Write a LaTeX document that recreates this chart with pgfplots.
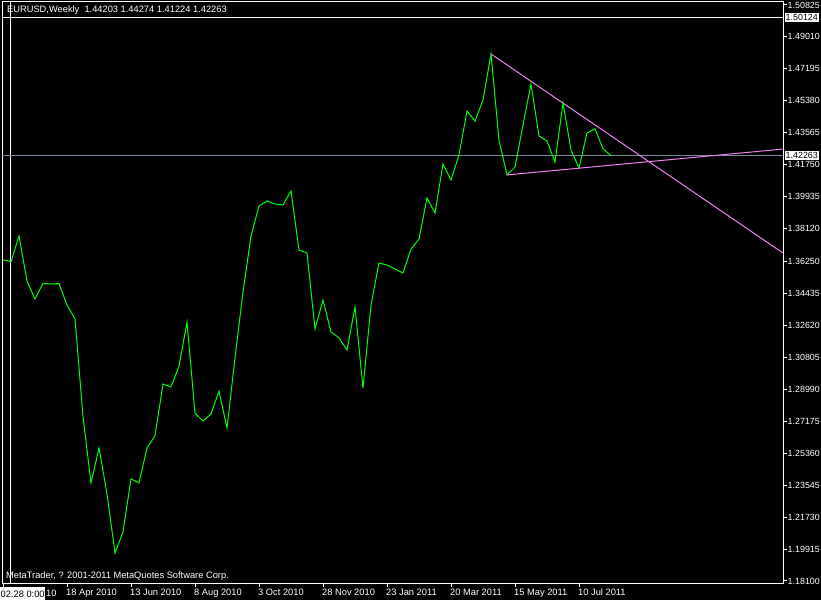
\documentclass[border=0pt]{standalone}
\usepackage{fontspec}
\setmainfont{Liberation Sans}
\usepackage{pgfplots}
\usepackage{pgfplotstable}
\pgfplotsset{compat=1.18}

\definecolor{mtgreen}{RGB}{0,255,0}
\definecolor{mtviolet}{RGB}{238,130,238}
\definecolor{mtbid}{RGB}{119,136,153}

% weekly closes, EURUSD; w = week number counted from 21 Feb 2010
\pgfplotstableread{
w close
0 1.3634
1 1.3624
2 1.3770
3 1.3515
4 1.3412
5 1.3501
6 1.3497
7 1.3500
8 1.3378
9 1.3299
10 1.2745
11 1.2367
12 1.2566
13 1.2305
14 1.1969
15 1.2088
16 1.2390
17 1.2367
18 1.2566
19 1.2635
20 1.2929
21 1.2912
22 1.3031
23 1.3281
24 1.2764
25 1.2719
26 1.2759
27 1.2889
28 1.2679
29 1.3077
30 1.3452
31 1.3770
32 1.3940
33 1.3969
34 1.3952
35 1.3946
36 1.4026
37 1.3690
38 1.3674
39 1.3242
40 1.3406
41 1.3225
42 1.3191
43 1.3122
44 1.3367
45 1.2906
46 1.3378
47 1.3617
48 1.3605
49 1.3583
50 1.3560
51 1.3696
52 1.3753
53 1.3986
54 1.3901
55 1.4179
56 1.4088
57 1.4230
58 1.4480
59 1.4423
60 1.4543
61 1.4804
62 1.4315
63 1.4117
64 1.4162
65 1.4401
66 1.4634
67 1.4338
68 1.4310
69 1.4190
70 1.4526
71 1.4259
72 1.4156
73 1.4355
74 1.4379
75 1.4266
76 1.42263
}\eurusd

\newcommand{\mtfont}{\fontsize{9.3bp}{10bp}\selectfont}
\newcommand{\mtscale}{\fontsize{8.9bp}{10bp}\selectfont}

\begin{document}
\begin{tikzpicture}
\fill[black] (0,0) rectangle (821bp,600bp);
\useasboundingbox (0,0) rectangle (821bp,600bp);
\begin{axis}[
  at={(2bp,17bp)}, anchor=south west,
  scale only axis, width=781bp, height=581bp,
  xmin=-0.125, xmax=97.5,
  ymin=1.17986, ymax=1.50995,
  axis line style={white, line width=1bp},
  tick align=outside,
  major tick length=4bp,
  every tick/.style={white, line width=1bp},
  xtick pos=lower, ytick pos=right,
  yticklabel pos=right,
  xtick={0,8,16,24,32,40,48,56,64,72},
  xticklabels={,18 Apr 2010,13 Jun 2010,8 Aug 2010,3 Oct 2010,28 Nov 2010,23 Jan 2011,20 Mar 2011,15 May 2011,10 Jul 2011},
  ytick={1.18100,1.19915,1.21730,1.23545,1.25360,1.27175,1.28990,1.30805,1.32620,1.34435,1.36250,1.38120,1.39935,1.41750,1.43565,1.45380,1.47195,1.49010,1.50825},
  yticklabels={1.18100,1.19915,1.21730,1.23545,1.25360,1.27175,1.28990,1.30805,1.32620,1.34435,1.36250,1.38120,1.39935,1.41750,1.43565,1.45380,1.47195,1.49010,1.50825},
  every tick label/.append style={font=\mtfont, text=white, inner sep=0pt},
  xticklabel style={anchor=north west, xshift=-1bp, yshift=-2bp},
  yticklabel style={anchor=west, xshift=0.5bp, font=\mtscale},
]
% crosshair
\addplot[white, line width=1bp] coordinates {(0.875,1.17986) (0.875,1.50995)};
\addplot[white, line width=1bp] coordinates {(-0.125,1.50124) (97.5,1.50124)};
% bid line
\addplot[mtbid, line width=1bp] coordinates {(-0.125,1.42263) (97.5,1.42263)};
% close prices
\addplot[mtgreen, line width=1bp] table[x=w, y=close] {\eurusd};
% triangle trend lines
\addplot[mtviolet, line width=1bp] coordinates {(61,1.4804) (97.5,1.3673)};
\addplot[mtviolet, line width=1bp] coordinates {(63,1.4117) (97.5,1.4264)};
\coordinate (bidR) at (axis cs:97.5,1.42263);
\coordinate (crossR) at (axis cs:97.5,1.50124);
\end{axis}
% price tags on the right scale
\node[fill=white, text=black, font=\mtscale, anchor=west, inner sep=0pt, minimum height=9bp, text depth=0pt, inner xsep=1bp] at ([xshift=1.5bp]bidR) {1.42263};
\node[fill=white, text=black, font=\mtscale, anchor=west, inner sep=0pt, minimum height=9bp, text depth=0pt, inner xsep=1bp] at ([xshift=1.5bp]crossR) {1.50124};
% time tag of the crosshair, covering the first date label but its tail
\node[text=white, font=\mtfont, anchor=base west, inner sep=0pt] at (46bp,4bp) {10};
\fill[white] (0,0) rectangle (45bp,13bp);
\node[text=black, font=\mtfont, anchor=base west, inner sep=0pt] at (0.5bp,3bp) {02.28 0:00};
% chart caption and copyright
\node[text=white, font=\mtfont, anchor=base west, inner sep=0pt] at (7bp,587bp) {EURUSD,Weekly\ \ 1.44203 1.44274 1.41224 1.42263};
\node[text=white, font=\mtfont, anchor=base west, inner sep=0pt] at (6bp,22bp) {MetaTrader, ? 2001-2011 MetaQuotes Software Corp.};
\end{tikzpicture}
\end{document}
